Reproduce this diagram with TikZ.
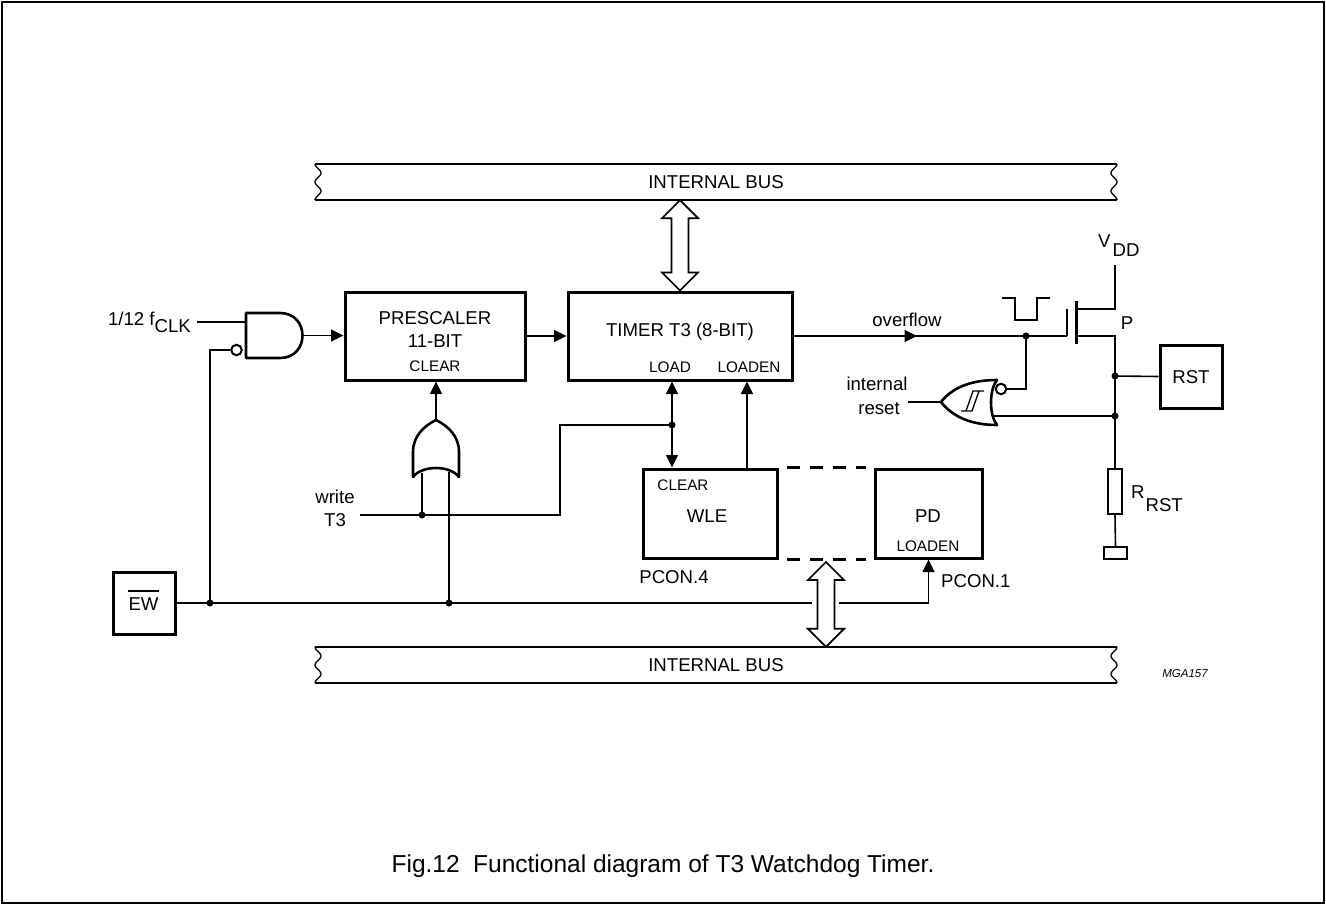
\documentclass[tikz,border=0pt]{standalone}
\usepackage{fontspec}
\setmainfont{Liberation Sans}
\usetikzlibrary{arrows.meta,calc}
\newcommand\busarrow[2]{%
  \draw[arrowoutline] (#1) -- ++(18,18) -- ++(-9.5,0) -- ($(#2)+(8.5,-18)$) -- ++(9.5,0) -- (#2)
    -- ++(-18,-18) -- ++(9.5,0) -- ($(#1)+(-8.5,18)$) -- ++(-9.5,0) -- cycle;}
\begin{document}
\begin{tikzpicture}[x=1pt,y=-1pt,
  wire/.style={line width=1.6pt},
  blockbox/.style={draw, line width=3pt, inner sep=0pt},
  gateline/.style={line width=2.6pt, line join=round},
  busline/.style={line width=2pt},
  arrowoutline/.style={line width=1.7pt, fill=white, line join=miter},
  arr/.style={-{Triangle[length=12.5pt,width=12pt]}},
  jdot/.style={circle, fill=black, inner sep=0pt, minimum size=7pt},
  lbl/.style={inner sep=0pt, anchor=base, font=\fontsize{18.6pt}{22pt}\selectfont},
  slbl/.style={inner sep=0pt, anchor=base, font=\fontsize{15.3pt}{18pt}\selectfont},
  bubble/.style={draw, circle, line width=2pt, fill=white, inner sep=0pt, minimum size=10.5pt},
]
\useasboundingbox (0,0) rectangle (1326,905);
\draw[line width=1.2pt] (2,2) rectangle (1324,903);

% ---------- buses ----------
\node[inner sep=0pt, minimum width=802pt, minimum height=36pt, font=\fontsize{18.6pt}{22pt}\selectfont] (bustop) at (716,182) {INTERNAL BUS};
\node[inner sep=0pt, minimum width=802pt, minimum height=36pt, font=\fontsize{18.6pt}{22pt}\selectfont] (busbot) at (716,665) {INTERNAL BUS};
\foreach \yt in {164,647}{
  \draw[busline] (315,\yt) -- (1117,\yt);
  \draw[busline] (315,\yt+36) -- (1117,\yt+36);
  \draw[line width=1.3pt] plot[domain=0:1, samples=40, smooth] ({318-3*cos(720*\x)}, {\yt+36*\x});
  \draw[line width=1.3pt] plot[domain=0:1, samples=40, smooth] ({1114+3*cos(720*\x)}, {\yt+36*\x});
}

% ---------- blocks ----------
\node[blockbox, minimum width=180pt, minimum height=88pt] (pre) at (435,336) {};
\node[blockbox, minimum width=224pt, minimum height=88pt] (tim) at (680,336) {};
\node[blockbox, minimum width=134pt, minimum height=89pt] (wle) at (710,513.5) {};
\node[blockbox, minimum width=107pt, minimum height=89pt] (pd) at (928.5,513.5) {};
\node[blockbox, minimum width=62pt, minimum height=62pt] (ew) at (144,603) {};
\node[blockbox, minimum width=62pt, minimum height=63pt] (rst) at (1191,376.5) {};

\node[lbl] at (435,324.7) {PRESCALER};
\node[lbl] at (435,347.7) {11-BIT};
\node[slbl] at (435,371.5) {CLEAR};
\node[lbl] at (680,336) {TIMER T3 (8-BIT)};
\node[slbl] at (670,372.5) {LOAD};
\node[slbl] at (749,372.5) {LOADEN};
\node[slbl] at (683,490.5) {CLEAR};
\node[lbl] at (707,522) {WLE};
\node[lbl] at (928,522) {PD};
\node[slbl] at (928,551) {LOADEN};
\node[lbl] at (674,583) {PCON.4};
\node[lbl, anchor=base west] at (941,587) {PCON.1};
\node[lbl] (ewlbl) at (143.5,610) {EW};
\draw[line width=1.4pt] ($(ewlbl.north west)+(0,-6)$) -- ($(ewlbl.north east)+(0,-6)$);
\node[lbl] at (1191,383) {RST};

% ---------- bus arrows ----------
\coordinate (bta) at (tim.north |- bustop.south);
\busarrow{bta}{tim.north}
\coordinate (bba) at (826,562);
\coordinate (bbb) at (bba |- busbot.north);
\busarrow{bba}{bbb}

% ---------- AND gate ----------
\draw[gateline, fill=white] (246,313) -- (280,313) .. controls (310,313) and (310,358) .. (280,358) -- (246,358) -- cycle;
\coordinate (andout) at (302.5,335.5);
\coordinate (clkin) at (197,322);
\node[bubble] (andbub) at (236.5,350) {};
\draw[wire] (clkin) -- (246,322);
\draw[wire, arr] (andout) -- (andout -| pre.west);
\node[lbl, anchor=base east] at (191,325) {1/12 f\raisebox{-7pt}{CLK}};

\draw[wire, arr] (pre.east) -- (tim.west);

% ---------- OR gate ----------
\draw[gateline, fill=white] (413,477) -- (413,452) .. controls (413,436) and (424,426) .. (436,420)
   .. controls (448,426) and (459,436) .. (459,452) -- (459,477)
   .. controls (450,465) and (422,465) .. (413,477) -- cycle;
\coordinate (orout) at (436,420);
\draw[wire, arr] (orout) -- (orout |- pre.south);

% ---------- EW line ----------
\node[jdot] (jewand) at (210,603) {};
\node[jdot] (jewor) at (449,603) {};
\draw[wire] (ew.east) -- (812,603);
\draw[wire] (jewand.center) |- (andbub.west);
\draw[wire] (449,472) -- (jewor.center);
\draw[wire, arr] (839,603) -| (pd.south);

% ---------- write T3 ----------
\coordinate (wrin) at (360,515);
\node[jdot] (jwr) at (422,515) {};
\node[jdot] (jload) at (672,425) {};
\draw[wire] (wrin) -- (560,515) -- (560,425) -- (jload.center);
\draw[wire] (422,473) -- (jwr.center);
\draw[wire, arr] (jload.center) -- (jload |- tim.south);
\draw[wire, arr] (jload.center) -- (jload |- wle.north);
\node[lbl] at (335,503) {write};
\node[lbl] at (335,526.7) {T3};

% LOADEN
\coordinate (xle) at (747,0);
\draw[wire, arr] (wle.north -| xle) -- (tim.south -| xle);

% dashed links WLE - PD
\draw[line width=3pt, dash pattern=on 13pt off 10pt] ($(wle.north east)+(8,0)$) -- ($(pd.north west)+(-8,0)$);
\draw[line width=3pt, dash pattern=on 13pt off 10pt] ($(wle.south east)+(8,0)$) -- ($(pd.south west)+(-8,0)$);

% ---------- overflow / MOSFET ----------
\coordinate (gate) at (1067,336);
\draw[wire, arr] (tim.east) -- (917,336);
\draw[wire] (906,336) -- (gate);
\node[lbl] at (907,326) {overflow};
\node[jdot] (jgate) at (1026,336) {};
\draw[wire] (1002,298) -- (1015,298) -- (1015,320) -- (1037,320) -- (1037,298) -- (1050,298);
\draw[line width=2pt] (1067,309) -- (gate);
\draw[line width=3pt] (1076,301) -- (1076,344);
\coordinate (vddtop) at (1115,265);
\node[draw, line width=1.6pt, inner sep=0pt, minimum width=14pt, minimum height=45pt] (res) at (1115,491.5) {};
\node[draw, line width=1.6pt, inner sep=0pt, minimum width=23pt, minimum height=12pt] (gnd) at (1115.5,553) {};
\draw[wire] (1076,309) -- (1115,309) -- (vddtop);
\draw[wire] (1076,336) -- (1115,336) -- (res.north);
\draw[wire] (res.south) -- (gnd.north);
\node[jdot] (jrst) at (1115,376) {};
\node[jdot] (jnor) at (1115,416) {};
\draw[wire] (jrst.center) -- (rst.west);
\node[lbl, anchor=base west] at (1098,247) {V\hspace{2pt}\raisebox{-9pt}{DD}};
\node[lbl] at (1127,329.6) {P};
\node[lbl, anchor=base west] at (1131,498.5) {R\hspace{1pt}\raisebox{-13pt}{RST}};

% ---------- NOR (Schmitt) gate ----------
\draw[gateline, fill=white] (997,380) .. controls (970,380) and (952,388) .. (941,402)
   .. controls (952,416) and (970,425) .. (997,425)
   .. controls (989,415) and (989,390) .. (997,380) -- cycle;
\node[bubble] (norbub) at (1001,389) {};
\draw[wire] (jgate.center) |- (norbub.east);
\draw[wire] (jnor.center) -- (994,416);
\coordinate (norout) at (941,402);
\draw[wire] (norout) -- (908,402);
\draw[line width=1.3pt] (961,411) -- (972,411) -- (979,391);
\draw[line width=1.3pt] (966,411) -- (973,391) -- (984,391);
\node[lbl] at (877,390) {internal};
\node[lbl] at (879,414) {reset};

% ---------- texts ----------
\node[inner sep=0pt, anchor=base, font=\fontsize{11.5pt}{14pt}\selectfont\itshape] at (1185,677) {MGA157};
\node[inner sep=0pt, anchor=base, font=\fontsize{24.5pt}{28pt}\selectfont] at (663,872) {Fig.12\hspace{0.55em}Functional diagram of T3 Watchdog Timer.};
\end{tikzpicture}
\end{document}
